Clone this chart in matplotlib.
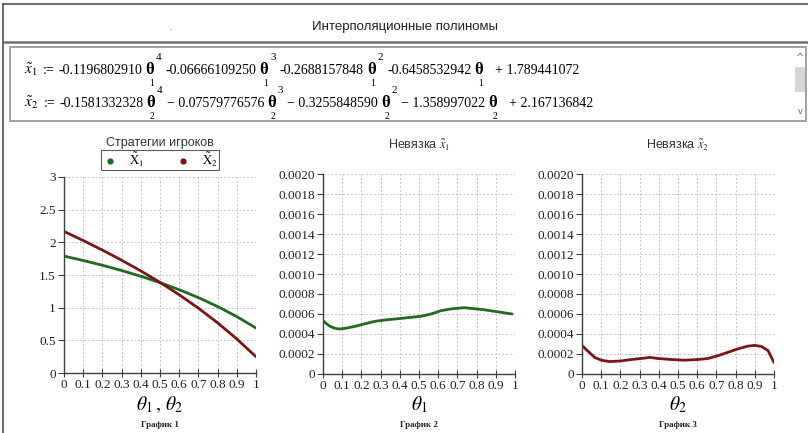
import matplotlib
matplotlib.use("Agg")
import matplotlib.pyplot as plt
from matplotlib.lines import Line2D
from matplotlib.patches import Rectangle

plt.rcParams["mathtext.fontset"] = "stix"
plt.rcParams["font.family"] = ["Liberation Serif", "DejaVu Serif"]

W, H = 808, 433

# interpolation polynomials as printed
x1_terms = ["-0.1196802910", "-0.06666109250", "-0.2688157848", "-0.6458532942"]
x1_const = "+ 1.789441072"
x2_terms = ["-0.1581332328", "\u2212 0.07579776576", "\u2212 0.3255848590", "\u2212 1.358997022"]
x2_const = "+ 2.167136842"
powers = ["4", "3", "2", ""]

# strategies (values of the polynomials)
theta = [0.0, 0.1, 0.2, 0.3, 0.4, 0.5, 0.6, 0.7, 0.8, 0.9, 1.0]
x1_vals = [1.78944, 1.72209, 1.64879, 1.56872, 1.48076, 1.38350,
           1.27525, 1.15402, 1.01757, 0.86331, 0.68843]
x2_vals = [2.16714, 2.02789, 1.88145, 1.72681, 1.56255, 1.38688,
           1.19766, 0.99234, 0.76798, 0.52131, 0.24862]

# residuals
th_r1 = [0.0, 0.031, 0.057, 0.082, 0.117, 0.168, 0.22, 0.271, 0.322, 0.391,
         0.46, 0.511, 0.563, 0.614, 0.665, 0.734, 0.786, 0.837, 0.906, 0.985]
res1 = [0.000533, 0.000483, 0.00046, 0.00045, 0.000457, 0.000477, 0.000503,
        0.000527, 0.00054, 0.000553, 0.000567, 0.000577, 0.0006, 0.000633,
        0.00065, 0.000663, 0.000653, 0.000643, 0.000623, 0.0006]
th_r2 = [0.0, 0.031, 0.066, 0.1, 0.144, 0.205, 0.257, 0.326, 0.352, 0.396,
         0.465, 0.535, 0.604, 0.656, 0.708, 0.76, 0.813, 0.865, 0.899, 0.934,
         0.969, 1.0]
res2 = [0.000286, 0.000228, 0.000166, 0.000138, 0.000124, 0.000131, 0.000145,
        0.000159, 0.000166, 0.000155, 0.000145, 0.000138, 0.000145, 0.000155,
        0.000183, 0.000217, 0.000252, 0.000279, 0.000286, 0.000276, 0.000234,
        0.000114]

x_ticks = [0, 0.1, 0.2, 0.3, 0.4, 0.5, 0.6, 0.7, 0.8, 0.9, 1]
x_labels = ["0", "0.1", "0.2", "0.3", "0.4", "0.5", "0.6", "0.7", "0.8", "0.9", "1"]
y1_ticks = [0, 0.5, 1, 1.5, 2, 2.5, 3]
y1_labels = ["0", "0.5", "1", "1.5", "2", "2.5", "3"]
yr_ticks = [0, 0.0002, 0.0004, 0.0006, 0.0008, 0.0010, 0.0012, 0.0014, 0.0016, 0.0018, 0.0020]
yr_labels = ["0", "0.0002", "0.0004", "0.0006", "0.0008", "0.0010",
             "0.0012", "0.0014", "0.0016", "0.0018", "0.0020"]

GREEN = "#1f6b1f"
RED = "#7e1515"
SERIF = "Liberation Serif"
SANS = "Liberation Sans"

fig = plt.figure(figsize=(W / 100, H / 100), dpi=100)
r = fig.canvas.get_renderer()


def fx(x):
    return x / W


def fy(y):
    return 1 - y / H


def put(x, y, s, size, **kw):
    t = fig.text(fx(x), fy(y), s, fontsize=size, va="baseline", ha="left",
                 family=SERIF, **kw)
    return t.get_window_extent(r).x1


# window frame
fig.add_artist(Line2D([fx(3), fx(808)], [fy(4), fy(4)], color="#707070", lw=1.5))
fig.add_artist(Line2D([fx(3), fx(3)], [fy(4), fy(433)], color="#505050", lw=1.2))
fig.add_artist(Line2D([fx(3), fx(808)], [fy(42), fy(42)], color="#707070", lw=1.8))
fig.text(fx(405), fy(27), "Интерполяционные полиномы", fontsize=9.5,
         family=SANS, color="#222222", ha="center", va="center")
fig.text(fx(171), fy(27), ".", fontsize=7, color="#888888", ha="center", va="center")

# formula box with scrollbar
fig.add_artist(Rectangle((fx(10), fy(121)), fx(796), 74 / H, fill=False,
                         edgecolor="#a0a0a0", lw=1.4))
fig.add_artist(Rectangle((fx(795), fy(92)), fx(10), 25 / H, facecolor="#d6d6d6",
                         edgecolor="none"))
fig.text(fx(800), fy(58), "^", fontsize=7, color="#666666", ha="center", va="center",
         family="DejaVu Sans")
fig.text(fx(800), fy(112), "v", fontsize=6, color="#666666", ha="center", va="center",
         family="DejaVu Sans")


def formula_row(y, idx, terms, const):
    x = put(24, y, r"$\tilde{x}_%s$" % idx, 11)
    x = put(x + 5, y, ":=", 10)
    x += 4
    for coef, p in zip(terms, powers):
        x = put(x, y, coef, 10)
        xt = put(x + 3, y, "\u03b8", 12, fontweight="bold")
        put(xt - 5, y + 12, idx, 7)
        if p:
            x = put(xt + 2, y - 14, p, 8) + 4
        else:
            x = xt + 8
    put(x + 4, y, const, 10)


formula_row(74, "1", x1_terms, x1_const)
formula_row(107, "2", x2_terms, x2_const)


def style_axes(ax, yticks, ylabels, ymax):
    ax.set_xlim(0, 1)
    ax.set_ylim(0, ymax)
    ax.set_xticks(x_ticks)
    ax.set_xticklabels(x_labels, family=SERIF, fontsize=9.5)
    ax.set_yticks(yticks)
    ax.set_yticklabels(ylabels, family=SERIF, fontsize=9.5)
    for s in ["top", "right"]:
        ax.spines[s].set_visible(False)
    for s in ["left", "bottom"]:
        ax.spines[s].set_color("#404040")
        ax.spines[s].set_linewidth(1.0)
    ax.tick_params(axis="both", colors="#404040", labelcolor="#222222",
                   length=4, width=0.8, pad=2)
    ax.tick_params(axis="x", direction="inout", length=6, pad=1)
    ax.grid(True, color="#c4c4c4", linestyle=(0, (2, 2)), linewidth=0.7)
    ax.set_axisbelow(True)


def add_axes(left, top, right, bottom):
    return fig.add_axes([fx(left), fy(bottom), (right - left) / W, (bottom - top) / H])


# Plot 1: strategies
ax1 = add_axes(64, 177, 256, 373)
style_axes(ax1, y1_ticks, y1_labels, 3)
ax1.plot(theta, x1_vals, color=GREEN, lw=2.0, solid_capstyle="round")
ax1.plot(theta, x2_vals, color=RED, lw=2.0, solid_capstyle="round")
fig.text(fx(160), fy(143), "Стратегии игроков", fontsize=9, family=SANS,
         color="#333333", ha="center", va="center")
handles = [Line2D([], [], marker="o", ls="", color=GREEN, markersize=3.5),
           Line2D([], [], marker="o", ls="", color=RED, markersize=3.5)]
leg = ax1.legend(handles, [r"$\tilde{\mathrm{X}}_1$", r"$\tilde{\mathrm{X}}_2$"], ncol=2,
                 loc="center", bbox_to_anchor=(fx(160), fy(160)),
                 bbox_transform=fig.transFigure, fontsize=9, frameon=True,
                 fancybox=False, edgecolor="#333333", handlelength=1.2,
                 handletextpad=0.9, columnspacing=2.6, borderpad=0.1,
                 borderaxespad=0)
leg.get_frame().set_linewidth(0.8)
fig.text(fx(160), fy(405), r"$\theta_1\,,\,\theta_2$", fontsize=14, ha="center", va="center")
fig.text(fx(160), fy(425), "График 1", fontsize=6.5, fontweight="bold", family=SERIF,
         ha="center", va="center", color="#222222")

# Plot 2: residual of x1
ax2 = add_axes(323, 174, 515, 374)
style_axes(ax2, yr_ticks, yr_labels, 0.002)
ax2.plot(th_r1, res1, color=GREEN, lw=2.0, solid_capstyle="round")
fig.text(fx(419), fy(145), r"Невязка $\tilde{x}_1$", fontsize=9, family=SANS,
         color="#333333", ha="center", va="center")
fig.text(fx(419), fy(405), r"$\theta_1$", fontsize=14, ha="center", va="center")
fig.text(fx(419), fy(425), "График 2", fontsize=6.5, fontweight="bold", family=SERIF,
         ha="center", va="center", color="#222222")

# Plot 3: residual of x2
ax3 = add_axes(582, 174, 774, 374)
style_axes(ax3, yr_ticks, yr_labels, 0.002)
ax3.plot(th_r2, res2, color=RED, lw=2.0, solid_capstyle="round")
fig.text(fx(678), fy(145), r"Невязка $\tilde{x}_2$", fontsize=9, family=SANS,
         color="#333333", ha="center", va="center")
fig.text(fx(678), fy(405), r"$\theta_2$", fontsize=14, ha="center", va="center")
fig.text(fx(678), fy(425), "График 3", fontsize=6.5, fontweight="bold", family=SERIF,
         ha="center", va="center", color="#222222")

fig.savefig("out.png", dpi=100)
